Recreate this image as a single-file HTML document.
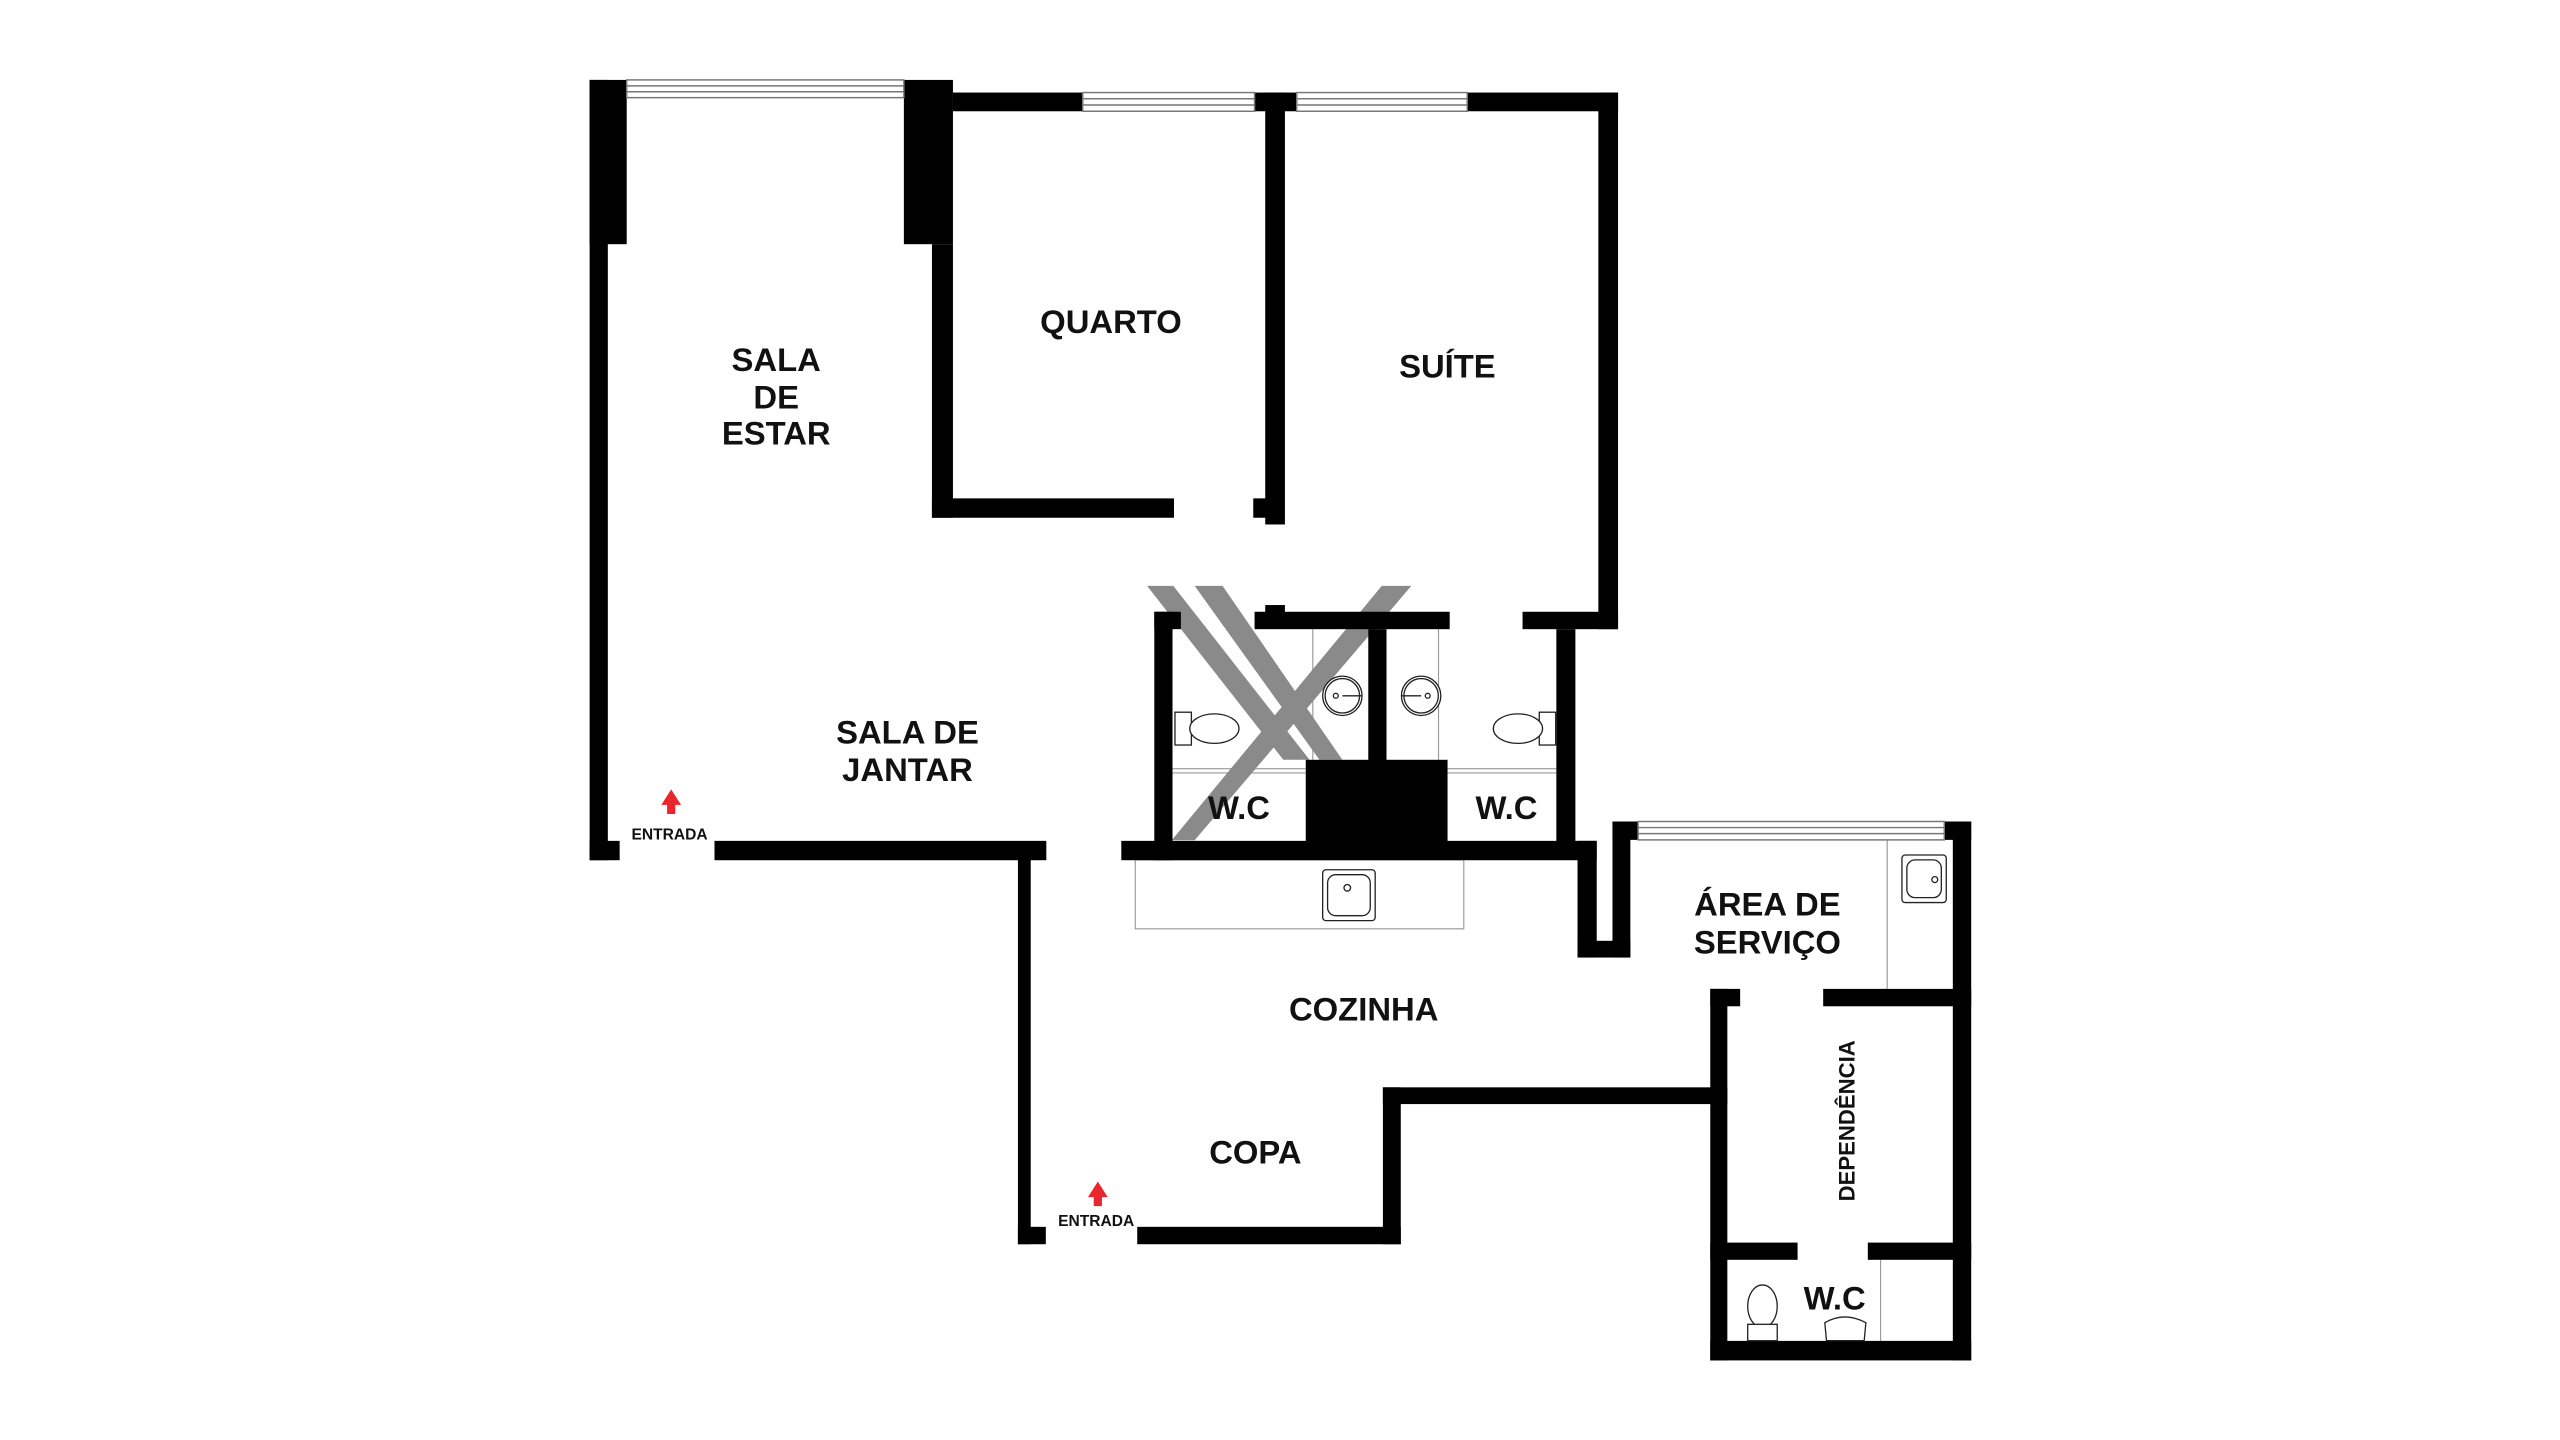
<!DOCTYPE html>
<html><head><meta charset="utf-8"><style>
html,body{margin:0;padding:0;background:#fff;}
svg{display:block;}
text{font-family:"Liberation Sans",sans-serif;font-weight:bold;fill:#111;}
</style></head><body>
<svg width="2560" height="1440" viewBox="0 0 1560 877.5" xmlns="http://www.w3.org/2000/svg">
<rect width="1560" height="877.5" fill="#fff"/>
<g fill="none" stroke="#999" stroke-width="0.7">
  <rect x="691.8" y="524" width="200.2" height="42"/>
  <line x1="714.5" y1="468.4" x2="795.7" y2="468.4"/>
  <line x1="714.5" y1="471" x2="795.7" y2="471"/>
  <line x1="882" y1="468.4" x2="948.4" y2="468.4"/>
  <line x1="882" y1="471" x2="948.4" y2="471"/>
  <line x1="800" y1="383.4" x2="800" y2="463"/>
  <line x1="876.6" y1="383.4" x2="876.6" y2="463"/>
  <line x1="1150" y1="511.8" x2="1150" y2="602.6"/>
  <line x1="1146" y1="767.7" x2="1146" y2="817.1"/>
</g>
<!-- X mark -->
<g fill="#8a8a8a">
  <polygon points="699,357 715,357 798,463 782,463"/>
  <polygon points="728,357 745,357 818,463 804,463"/>
  <polygon points="842,357 860,357 728,512 714,512"/>
</g>
<g fill="#000">
  <rect x="359.3" y="48.7" width="11.1" height="475.5"/>
  <rect x="359.3" y="48.7" width="22.6" height="100.1"/>
  <rect x="359.3" y="512.4" width="18.3" height="11.8"/>
  <rect x="550.8" y="48.7" width="29.9" height="100.1"/>
  <rect x="567.9" y="148.8" width="12.8" height="166.7"/>
  <rect x="567.9" y="303.7" width="147.5" height="11.8"/>
  <rect x="580.7" y="56.4" width="79.1" height="11.4"/>
  <rect x="764.5" y="56.4" width="25.7" height="11.4"/>
  <rect x="771" y="56.4" width="12" height="263.2"/>
  <rect x="763.7" y="303.7" width="8" height="11.8"/>
  <rect x="894.1" y="56.4" width="91.9" height="11.4"/>
  <rect x="974" y="56.4" width="12" height="327"/>
  <rect x="927.8" y="372.8" width="58.2" height="10.6"/>
  <rect x="764.5" y="372.8" width="118.9" height="10.6"/>
  <rect x="771" y="368.7" width="12" height="5"/>
  <rect x="703.4" y="372.8" width="11.1" height="151.4"/>
  <rect x="703.4" y="372.8" width="16.2" height="10.6"/>
  <rect x="948.4" y="383.4" width="11.6" height="131.3"/>
  <rect x="683.3" y="512.4" width="289.7" height="11.8"/>
  <rect x="795.7" y="463" width="86.4" height="50"/>
  <rect x="833.8" y="383.4" width="11.1" height="80"/>
  <rect x="435.4" y="512.4" width="202.2" height="11.8"/>
  <rect x="620.3" y="513.4" width="7.8" height="244.8"/>
  <rect x="620.3" y="747.6" width="17" height="10.6"/>
  <rect x="693" y="747.6" width="160.6" height="10.6"/>
  <rect x="842.7" y="662.6" width="10.9" height="95.6"/>
  <rect x="842.7" y="662.6" width="209.9" height="10.2"/>
  <rect x="1042.2" y="602.6" width="10.4" height="226.4"/>
  <rect x="1042.2" y="602.6" width="18.2" height="10.6"/>
  <rect x="1042.2" y="817.1" width="159" height="11.9"/>
  <rect x="1190" y="500.6" width="11.2" height="328.4"/>
  <rect x="1184.8" y="500.6" width="16.4" height="11.2"/>
  <rect x="982.6" y="500.6" width="15.6" height="11.2"/>
  <rect x="982.6" y="500.6" width="10.9" height="82.9"/>
  <rect x="961.3" y="573.3" width="32.2" height="10.2"/>
  <rect x="961.3" y="512.4" width="11.7" height="71.1"/>
  <rect x="1111" y="602.6" width="90.2" height="10.6"/>
  <rect x="1042.2" y="757.2" width="53.2" height="10.5"/>
  <rect x="1138.2" y="757.2" width="63" height="10.5"/>
</g>
<g fill="#fff" stroke="#777" stroke-width="0.9">
  <rect x="381.9" y="48.7" width="168.9" height="10.8"/>
  <line x1="381.9" y1="52.3" x2="550.8" y2="52.3"/><line x1="381.9" y1="55.9" x2="550.8" y2="55.9"/>
  <rect x="659.8" y="56.4" width="104.7" height="11.4"/>
  <line x1="659.8" y1="60.2" x2="764.5" y2="60.2"/><line x1="659.8" y1="64" x2="764.5" y2="64"/>
  <rect x="790.2" y="56.4" width="103.9" height="11.4"/>
  <line x1="790.2" y1="60.2" x2="894.1" y2="60.2"/><line x1="790.2" y1="64" x2="894.1" y2="64"/>
  <rect x="998.2" y="500.6" width="186.6" height="11.2"/>
  <line x1="998.2" y1="504.3" x2="1184.8" y2="504.3"/><line x1="998.2" y1="508" x2="1184.8" y2="508"/>
</g>
<g fill="#fff" stroke="#222" stroke-width="0.8">
  <rect x="716" y="434" width="10" height="20"/>
  <ellipse cx="740" cy="444" rx="15" ry="9"/>
  <rect x="938" y="434" width="10" height="20"/>
  <ellipse cx="925" cy="444" rx="15" ry="9"/>
  <circle cx="818" cy="424" r="12"/><circle cx="818" cy="424" r="10.5"/><circle cx="814" cy="424" r="1.5"/>
  <line x1="818" y1="424" x2="830" y2="424"/>
  <circle cx="866" cy="424" r="12"/><circle cx="866" cy="424" r="10.5"/><circle cx="870" cy="424" r="1.5"/>
  <line x1="854" y1="424" x2="866" y2="424"/>
  <rect x="806" y="530" width="32" height="31" rx="2"/><rect x="809" y="533" width="26" height="25" rx="5"/><circle cx="821" cy="541" r="2"/>
  <rect x="1159" y="521" width="27" height="29" rx="2"/><rect x="1162" y="524" width="21" height="23" rx="5"/><circle cx="1179" cy="536" r="1.8"/>
  <ellipse cx="1074" cy="796" rx="9" ry="13"/><rect x="1065" y="807" width="18" height="10"/>
  <path d="M1113 817 L1112 806 Q1124 799 1137 806 L1136 817 Z"/>
</g>
<g fill="#e8262c">
  <polygon points="409,481 415,490.5 411.5,490.5 411.5,496 406.5,496 406.5,490.5 403,490.5"/>
  <polygon points="669,720 675,729.5 671.5,729.5 671.5,735 666.5,735 666.5,729.5 663,729.5"/>
</g>
<g text-anchor="middle" font-size="20">
  <text x="473" y="226">SALA</text>
  <text x="473" y="249">DE</text>
  <text x="473" y="271">ESTAR</text>
  <text x="677" y="203">QUARTO</text>
  <text x="882" y="230">SUÍTE</text>
  <text x="553" y="453">SALA DE</text>
  <text x="553" y="476">JANTAR</text>
  <text x="755" y="499">W.C</text>
  <text x="918" y="499">W.C</text>
  <text x="1077" y="558">ÁREA DE</text>
  <text x="1077" y="581">SERVIÇO</text>
  <text x="831" y="622">COZINHA</text>
  <text x="765" y="709">COPA</text>
  <text x="1118" y="798">W.C</text>
  <text x="408" y="511.5" font-size="9.5">ENTRADA</text>
  <text x="668" y="747" font-size="9.5">ENTRADA</text>
  <text transform="translate(1130,683) rotate(-90)" font-size="13.5">DEPENDÊNCIA</text>
</g>
</svg>
</body></html>
